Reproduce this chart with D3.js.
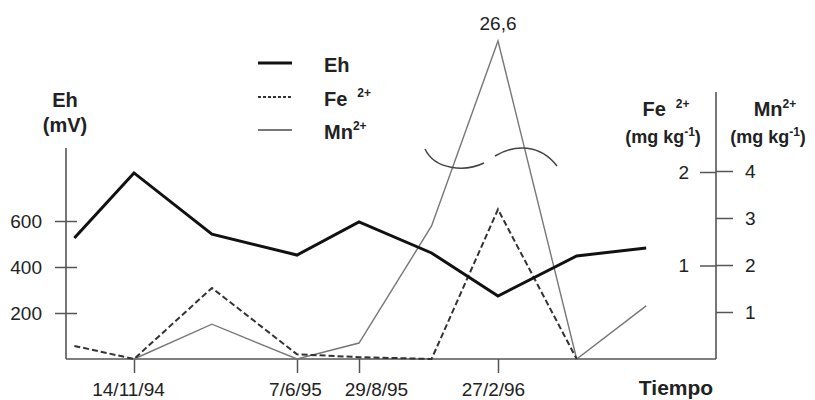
<!DOCTYPE html>
<html>
<head>
<meta charset="utf-8">
<script src="https://cdn.jsdelivr.net/npm/d3@7"></script>
<style>
  body { margin: 0; background: #fff; }
  svg { font-family: "Liberation Sans", Arial, sans-serif; }
</style>
</head>
<body>
<svg id="chart" width="815" height="400"></svg>
<script>
// sampling dates and measured values
const fechas = ["1994-08-31", "1994-11-14", "1995-02-20", "1995-06-07", "1995-08-29",
                "1995-12-02", "1996-02-27", "1996-06-09", "1996-09-08"];
const eh = [526, 809, 543, 452, 596, 461, 274, 448, 483];
const fe = [0.14, 0, 0.76, 0.05, 0.02, 0, 1.6, 0, null];
const mn = [null, 0, 0.74, 0, 0.34, 2.83, 26.6, 0, 1.13];

const tickFechas = ["1994-11-14", "1995-06-07", "1995-08-29", "1996-02-27"];
const tickLabels = ["14/11/94", "7/6/95", "29/8/95", "27/2/96"];
const ehTicks = [200, 400, 600];
const feTicks = [1, 2];
const mnTicks = [1, 2, 3, 4];

const parse = d3.timeParse("%Y-%m-%d");
const fmt = d3.timeFormat("%Y-%m-%d");
const svg = d3.select("#chart");

const left = 66, right = 716, base = 359;

const x = d3.scaleTime()
    .domain(tickFechas.map(parse))
    .range([134, 297, 359, 498]);
const yEh = d3.scaleLinear().domain([0, 600]).range([base, 221]);
const yFe = d3.scaleLinear().domain([0, 2]).range([base, 172]);
// broken scale above 4 mg/kg for the 26,6 peak
const yMn = d3.scaleLinear().domain([0, 4, 26.6]).range([base, 171, 41]);

const data = fechas.map((f, i) => ({ date: parse(f), eh: eh[i], fe: fe[i], mn: mn[i] }));

// axis lines
svg.append("line").attr("x1", left).attr("x2", left).attr("y1", 148).attr("y2", base)
    .attr("stroke", "#555").attr("stroke-width", 1.6);
svg.append("line").attr("x1", right).attr("x2", right).attr("y1", 92).attr("y2", base)
    .attr("stroke", "#555").attr("stroke-width", 1.6);
svg.append("line").attr("x1", left).attr("x2", right).attr("y1", base).attr("y2", base)
    .attr("stroke", "#555").attr("stroke-width", 1.6);

function styleAxis(g) {
    g.select(".domain").remove();
    g.selectAll("line").attr("stroke", "#555").attr("stroke-width", 1.5);
    g.selectAll("text").attr("fill", "#222").style("font-size", "19px");
}

svg.append("g").attr("transform", `translate(${left},0)`)
    .call(d3.axisLeft(yEh).tickValues(ehTicks).tickSize(11).tickPadding(13))
    .call(styleAxis)
    .call(g => g.selectAll(".tick line").attr("x1", 11));

svg.append("g").attr("transform", `translate(${right},0)`)
    .call(d3.axisLeft(yFe).tickValues(feTicks).tickSize(16).tickPadding(11).tickFormat(d3.format("d")))
    .call(styleAxis);

svg.append("g").attr("transform", `translate(${right},0)`)
    .call(d3.axisRight(yMn).tickValues(mnTicks).tickSize(17).tickPadding(12).tickFormat(d3.format("d")))
    .call(styleAxis);

const xAxis = svg.append("g").attr("transform", `translate(0,${base})`)
    .call(d3.axisBottom(x).tickValues(tickFechas.map(parse)).tickSize(14).tickPadding(10)
        .tickFormat(d => tickLabels[tickFechas.indexOf(fmt(d))]))
    .call(styleAxis);
// push apart the two close labels as in the original
xAxis.selectAll(".tick text").attr("dx", (d, i) => [-6, -2, 17, -5][i]);

// series
const lineEh = d3.line().x(d => x(d.date)).y(d => yEh(d.eh));
const lineFe = d3.line().defined(d => d.fe != null).x(d => x(d.date)).y(d => yFe(d.fe));
const lineMn = d3.line().defined(d => d.mn != null).x(d => x(d.date)).y(d => yMn(d.mn));

svg.append("path").datum(data).attr("d", lineMn)
    .attr("fill", "none").attr("stroke", "#777").attr("stroke-width", 1.4);
svg.append("path").datum(data).attr("d", lineFe)
    .attr("fill", "none").attr("stroke", "#333").attr("stroke-width", 2)
    .attr("stroke-dasharray", "6,3");
svg.append("path").datum(data).attr("d", lineEh)
    .attr("fill", "none").attr("stroke", "#111").attr("stroke-width", 3);

// peak label and axis break marks
const peak = data.find(d => d.mn === d3.max(mn));
const px = x(peak.date);
svg.append("text").attr("x", px).attr("y", yMn(peak.mn) - 11)
    .attr("text-anchor", "middle").style("font-size", "19px").attr("fill", "#222")
    .text("26,6");
const by = yMn(4);
svg.append("path")
    .attr("d", `M${px - 73},${by - 22} C${px - 63},${by - 1} ${px - 33},${by + 1} ${px - 14},${by - 8}`)
    .attr("fill", "none").attr("stroke", "#444").attr("stroke-width", 1.5);
svg.append("path")
    .attr("d", `M${px - 3},${by - 15} C${px + 17},${by - 27} ${px + 42},${by - 27} ${px + 59},${by - 5}`)
    .attr("fill", "none").attr("stroke", "#444").attr("stroke-width", 1.5);

// axis titles
const bold = s => s.style("font-weight", "bold").attr("fill", "#222");
svg.append("text").attr("x", 65).attr("y", 107).attr("text-anchor", "middle")
    .style("font-size", "20px").call(bold).text("Eh");
svg.append("text").attr("x", 65).attr("y", 132).attr("text-anchor", "middle")
    .style("font-size", "20px").call(bold).text("(mV)");

function titleSup(xc, y, main, sup, gap, size) {
    const t = svg.append("text").attr("x", xc).attr("y", y).attr("text-anchor", "middle")
        .style("font-size", size + "px").call(bold);
    t.append("tspan").text(main);
    t.append("tspan").attr("dx", gap).attr("dy", -8).style("font-size", Math.round(size * 0.6) + "px").text(sup);
}
titleSup(666, 116, "Fe", "2+", 10, 20);
titleSup(775, 116, "Mn", "2+", 0, 20);

function unitLabel(xc) {
    const t = svg.append("text").attr("x", xc).attr("y", 143).attr("text-anchor", "middle")
        .style("font-size", "18px").call(bold);
    t.append("tspan").text("(mg kg");
    t.append("tspan").attr("dy", -7).style("font-size", "12px").text("-1");
    t.append("tspan").attr("dy", 7).text(")");
}
unitLabel(663);
unitLabel(768);

svg.append("text").attr("x", 676).attr("y", 395).attr("text-anchor", "middle")
    .style("font-size", "21px").call(bold).text("Tiempo");

// legend
const legend = [
    { name: "Eh", sup: "", stroke: "#111", width: 3, dash: null, y: 63 },
    { name: "Fe", sup: "2+", stroke: "#333", width: 1.8, dash: "3,2", y: 97 },
    { name: "Mn", sup: "2+", stroke: "#777", width: 2, dash: null, y: 130 }
];
const lg = svg.append("g");
legend.forEach(l => {
    lg.append("line").attr("x1", 258).attr("x2", 292).attr("y1", l.y).attr("y2", l.y)
        .attr("stroke", l.stroke).attr("stroke-width", l.width)
        .attr("stroke-dasharray", l.dash);
    const t = lg.append("text").attr("x", 324).attr("y", l.y + 9)
        .style("font-size", "20px").call(bold);
    t.append("tspan").text(l.name);
    if (l.sup) {
        t.append("tspan").attr("dx", l.name === "Fe" ? 10 : 0).attr("dy", -9)
            .style("font-size", "12px").text(l.sup);
    }
});
</script>
</body>
</html>
